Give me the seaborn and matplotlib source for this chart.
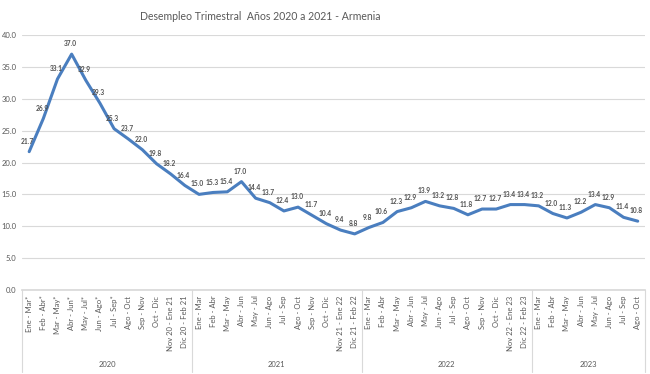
import numpy as np
import pandas as pd
import matplotlib
matplotlib.use("Agg")
import matplotlib.pyplot as plt
import matplotlib.transforms as mtransforms
import seaborn as sns

years = ["2020", "2021", "2022", "2023"]
labels_2020 = ["Ene - Mar*", "Feb - Abr*", "Mar - May*", "Abr - Jun*", "May - Jul*", "Jun - Ago*",
               "Jul - Sep*", "Ago - Oct", "Sep - Nov", "Oct - Dic", "Nov 20 - Ene 21", "Dic 20 - Feb 21"]
labels_2021 = ["Ene - Mar", "Feb - Abr", "Mar - May", "Abr - Jun", "May - Jul", "Jun - Ago",
               "Jul - Sep", "Ago - Oct", "Sep - Nov", "Oct - Dic", "Nov 21 - Ene 22", "Dic 21 - Feb 22"]
labels_2022 = ["Ene - Mar", "Feb - Abr", "Mar - May", "Abr - Jun", "May - Jul", "Jun - Ago",
               "Jul - Sep", "Ago - Oct", "Sep - Nov", "Oct - Dic", "Nov 22 - Ene 23", "Dic 22 - Feb 23"]
labels_2023 = ["Ene - Mar", "Feb - Abr", "Mar - May", "Abr - Jun", "May - Jul", "Jun - Ago",
               "Jul - Sep", "Ago - Oct"]

values_2020 = [21.7, 26.9, 33.1, 37.0, 32.9, 29.3, 25.3, 23.7, 22.0, 19.8, 18.2, 16.4]
values_2021 = [15.0, 15.3, 15.4, 17.0, 14.4, 13.7, 12.4, 13.0, 11.7, 10.4, 9.4, 8.8]
values_2022 = [9.8, 10.6, 12.3, 12.9, 13.9, 13.2, 12.8, 11.8, 12.7, 12.7, 13.4, 13.4]
values_2023 = [13.2, 12.0, 11.3, 12.2, 13.4, 12.9, 11.4, 10.8]

groups = [labels_2020, labels_2021, labels_2022, labels_2023]
vals = [values_2020, values_2021, values_2022, values_2023]
cats = sum(groups, [])
values = sum(vals, [])
df = pd.DataFrame({"pos": np.arange(len(cats)), "valor": values})

sns.set_theme(style="white")
plt.rcParams['font.family'] = ['Lato', 'DejaVu Sans']

fig = plt.figure(figsize=(6.5, 3.74), dpi=100)
ax = fig.add_axes([0.034, 0.2246, 0.958, 0.6818])

sns.lineplot(data=df, x="pos", y="valor", ax=ax, color="#4A7EBF", linewidth=2.2)

n = len(cats)
ax.set_xlim(-0.5, n - 0.5)
ax.set_ylim(0, 40)
ax.set_yticks(np.arange(0, 40.1, 5))
ax.set_yticklabels([f"{v:.1f}" for v in np.arange(0, 40.1, 5)], fontsize=5.5, color="#595959")
ax.yaxis.grid(True, color="#D9D9D9", linewidth=0.8)
ax.set_axisbelow(True)
for s in ["left", "right", "top"]:
    ax.spines[s].set_visible(False)
ax.spines["bottom"].set_color("#D9D9D9")
ax.tick_params(axis="y", length=0, pad=4)
ax.set_xticks(np.arange(n))
ax.set_xticklabels(cats, rotation=90, fontsize=5.5, color="#595959")
ax.tick_params(axis="x", length=0, pad=4)
ax.set_xlabel("")
ax.set_ylabel("")

for i, v in enumerate(values):
    ax.annotate(f"{v:.1f}", (i, v), xytext=(-1, 5), textcoords="offset points",
                ha="center", va="bottom", fontsize=4.8, color="#505050", fontweight="bold")

# group separators and year labels
trans = mtransforms.blended_transform_factory(ax.transData, ax.transAxes)
start = 0
bounds = [-0.5]
for g in groups:
    start += len(g)
    bounds.append(start - 0.5)
for b in bounds:
    ax.plot([b, b], [0, -0.32], transform=trans, color="#D9D9D9", linewidth=0.8, clip_on=False)
for k, y in enumerate(years):
    mid = (bounds[k] + bounds[k + 1]) / 2
    ax.text(mid, -0.294, y, transform=trans, ha="center", va="center", fontsize=5.5, color="#595959")

fig.text(0.40, 0.955, "Desempleo Trimestral  Años 2020 a 2021 - Armenia", ha="center", va="center",
         fontsize=7.6, color="#595959")

fig.savefig("out.png", dpi=100)
